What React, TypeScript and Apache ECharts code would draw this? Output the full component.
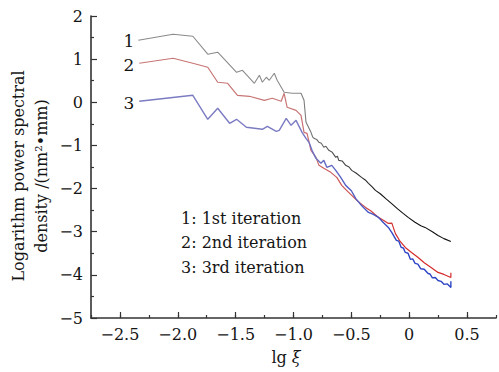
import React, { useEffect, useRef } from "react";
import * as echarts from "echarts";

const xMajorTicks = [-2.5, -2, -1.5, -1, -0.5, 0, 0.5];

const s1x = [-2.341, -2.041, -1.870, -1.741, -1.655, -1.492, -1.441, -1.338, -1.295, -1.269, -1.235, -1.209, -1.166, -1.141, -1.081, -1.012, -0.935, -0.909, -0.892, -0.87, -0.849, -0.835, -0.823, -0.80, -0.78, -0.76, -0.738, -0.72, -0.695, -0.665, -0.635, -0.62, -0.609, -0.58, -0.549, -0.52, -0.497, -0.46, -0.412, -0.38, -0.352, -0.32, -0.292, -0.25, -0.2, -0.154, -0.1, -0.05, -0.009, 0.05, 0.1, 0.137, 0.2, 0.249, 0.3, 0.36];
const s1y = [1.439, 1.578, 1.531, 1.114, 1.160, 0.696, 0.742, 0.441, 0.626, 0.464, 0.580, 0.510, 0.673, 0.510, 0.232, 0.209, 0.209, 0.046, -0.464, -0.58, -0.696, -0.80, -0.835, -0.86, -0.928, -0.95, -1.044, -1.02, -1.114, -1.16, -1.276, -1.25, -1.346, -1.36, -1.462, -1.50, -1.578, -1.64, -1.740, -1.80, -1.879, -1.96, -2.042, -2.12, -2.24, -2.343, -2.47, -2.58, -2.668, -2.78, -2.86, -2.900, -3.0, -3.086, -3.16, -3.225];

const s2x = [-2.333, -2.041, -1.870, -1.741, -1.655, -1.569, -1.484, -1.381, -1.252, -1.184, -1.106, -1.081, -1.055, -0.978, -0.935, -0.909, -0.883, -0.849, -0.806, -0.780, -0.738, -0.678, -0.626, -0.583, -0.55, -0.497, -0.45, -0.377, -0.33, -0.266, -0.22, -0.180, -0.150, -0.120, -0.08, -0.034, 0.02, 0.077, 0.13, 0.189, 0.249, 0.3, 0.36, 0.36];
const s2y = [0.905, 1.021, 0.905, 0.812, 0.464, 0.441, 0.162, 0.139, 0.046, 0.093, 0.023, 0.209, -0.116, -0.186, -0.302, -0.696, -0.719, -1.114, -1.276, -1.462, -1.531, -1.624, -1.740, -1.926, -2.02, -2.158, -2.28, -2.436, -2.52, -2.668, -2.74, -2.807, -2.80, -3.039, -3.22, -3.364, -3.48, -3.596, -3.72, -3.828, -3.944, -3.99, -4.06, -3.95];

const s3x = [-2.333, -1.870, -1.741, -1.655, -1.552, -1.492, -1.407, -1.338, -1.269, -1.226, -1.149, -1.123, -1.063, -1.021, -0.978, -0.926, -0.892, -0.866, -0.840, -0.806, -0.763, -0.738, -0.712, -0.669, -0.635, -0.592, -0.549, -0.50, -0.463, -0.41, -0.352, -0.31, -0.266, -0.22, -0.180, -0.15, -0.111, -0.09, -0.07, -0.05, -0.034, -0.01, 0.01, 0.03, 0.051, 0.075, 0.1, 0.13, 0.163, 0.18, 0.2, 0.225, 0.249, 0.275, 0.3, 0.33, 0.36, 0.36];
const s3y = [0.023, 0.162, -0.394, -0.139, -0.487, -0.394, -0.580, -0.603, -0.626, -0.557, -0.673, -0.650, -0.371, -0.534, -0.418, -0.696, -0.835, -0.928, -1.114, -1.299, -1.415, -1.346, -1.508, -1.462, -1.578, -1.740, -1.926, -2.05, -2.227, -2.40, -2.552, -2.60, -2.668, -2.80, -2.900, -3.02, -3.202, -3.22, -3.36, -3.38, -3.480, -3.50, -3.64, -3.63, -3.735, -3.75, -3.86, -3.87, -3.968, -3.98, -4.07, -4.06, -4.130, -4.15, -4.22, -4.21, -4.292, -4.15];

const fmtX = (v: number) => {
  if (Math.abs(v) < 1e-9) return "0";
  return (v < 0 ? "\u2212" : "") + Math.abs(v).toFixed(1);
};
const fmtY = (v: number) => (v < 0 ? "\u2212" + Math.abs(v) : String(v));

const FONT = "DejaVu Serif";
const TXT = "#151515";

export default function App() {
  const ref = useRef<HTMLDivElement>(null);
  useEffect(() => {
    if (!ref.current) return;
    const chart = echarts.init(ref.current, undefined, { renderer: "svg" });
    const zip = (xs: number[], ys: number[]) => xs.map((x, i) => [x, ys[i]]);
    const grad = (c1: string, c2: string, o1: number, o2: number) =>
      new echarts.graphic.LinearGradient(0, 0, 1, 0, [
        { offset: 0, color: c1 },
        { offset: o1, color: c1 },
        { offset: o2, color: c2 },
        { offset: 1, color: c2 },
      ]);
    const axisColor = "#333333";
    chart.setOption({
      animation: false,
      backgroundColor: "#ffffff",
      grid: { left: 91, top: 16, width: 407, height: 302, containLabel: false },
      xAxis: [
        {
          type: "value",
          min: -2.75,
          max: 0.75,
          interval: 0.25,
          axisLine: { show: true, onZero: false, lineStyle: { color: axisColor, width: 1.6 } },
          axisTick: { show: true, inside: true, length: 3, lineStyle: { color: axisColor, width: 1.2 } },
          axisLabel: {
            show: true,
            margin: 8,
            fontFamily: FONT,
            fontSize: 16,
            color: TXT,
            formatter: (v: number) => (Math.abs(v * 2 - Math.round(v * 2)) < 1e-9 ? fmtX(v) : ""),
          },
          splitLine: { show: false },
        },
        {
          type: "value",
          position: "bottom",
          min: -2.75,
          max: 0.75,
          axisLine: { show: false, onZero: false },
          axisTick: { show: true, inside: true, length: 6, customValues: xMajorTicks, lineStyle: { color: axisColor, width: 1.2 } },
          axisLabel: { show: false },
          splitLine: { show: false },
        },
      ],
      yAxis: {
        type: "value",
        min: -5,
        max: 2,
        interval: 1,
        axisLine: { show: true, onZero: false, lineStyle: { color: axisColor, width: 1.6 } },
        axisTick: { show: true, inside: true, length: 6, lineStyle: { color: axisColor, width: 1.2 } },
        minorTick: { show: true, splitNumber: 2, length: 3, lineStyle: { color: axisColor, width: 1.2 } },
        axisLabel: { margin: 8, fontFamily: FONT, fontSize: 16, color: TXT, formatter: fmtY },
        splitLine: { show: false },
      },
      series: [
        {
          type: "line",
          data: zip(s1x, s1y),
          showSymbol: false,
          lineStyle: { width: 1.1, color: grad("#8a8a8a", "#111111", 0.5, 0.78) },
        },
        {
          type: "line",
          data: zip(s2x, s2y),
          showSymbol: false,
          lineStyle: { width: 1.2, color: grad("#c77575", "#d42a2a", 0.5, 0.85) },
        },
        {
          type: "line",
          data: zip(s3x, s3y),
          showSymbol: false,
          lineStyle: { width: 1.4, color: grad("#7b7bc2", "#2c44c4", 0.5, 0.85) },
        },
      ],
      graphic: [
        {
          type: "text",
          x: 30,
          y: 176,
          rotation: Math.PI / 2,
          style: {
            text: "Logarithm power spectral\ndensity /(nm\u00b2\u2022mm)",
            font: `16px '${FONT}'`,
            fill: TXT,
            align: "center",
            verticalAlign: "middle",
            lineHeight: 23,
          },
        },
        { type: "text", x: 129, y: 41, style: { text: "1", font: `17px '${FONT}'`, fill: TXT, align: "center", verticalAlign: "middle" } },
        { type: "text", x: 129, y: 65, style: { text: "2", font: `17px '${FONT}'`, fill: TXT, align: "center", verticalAlign: "middle" } },
        { type: "text", x: 129, y: 103, style: { text: "3", font: `17px '${FONT}'`, fill: TXT, align: "center", verticalAlign: "middle" } },
        { type: "text", x: 181, y: 218, style: { text: "1: 1st iteration", font: `16px '${FONT}'`, fill: TXT, align: "left", verticalAlign: "middle" } },
        { type: "text", x: 181, y: 242, style: { text: "2: 2nd iteration", font: `16px '${FONT}'`, fill: TXT, align: "left", verticalAlign: "middle" } },
        { type: "text", x: 181, y: 267, style: { text: "3: 3rd iteration", font: `16px '${FONT}'`, fill: TXT, align: "left", verticalAlign: "middle" } },
        {
          type: "text",
          x: 286,
          y: 357,
          style: {
            text: "{a|lg }{b|\u03be}",
            align: "center",
            verticalAlign: "middle",
            rich: {
              a: { fontFamily: FONT, fontSize: 16, fill: TXT },
              b: { fontFamily: FONT, fontSize: 16, fontStyle: "italic", fill: TXT },
            },
          },
        },
      ],
    });
    return () => chart.dispose();
  }, []);
  return (
    <div
      ref={ref}
      style={{ position: "fixed", left: 0, top: 0, width: 499, height: 372, background: "#fff" }}
    />
  );
}
